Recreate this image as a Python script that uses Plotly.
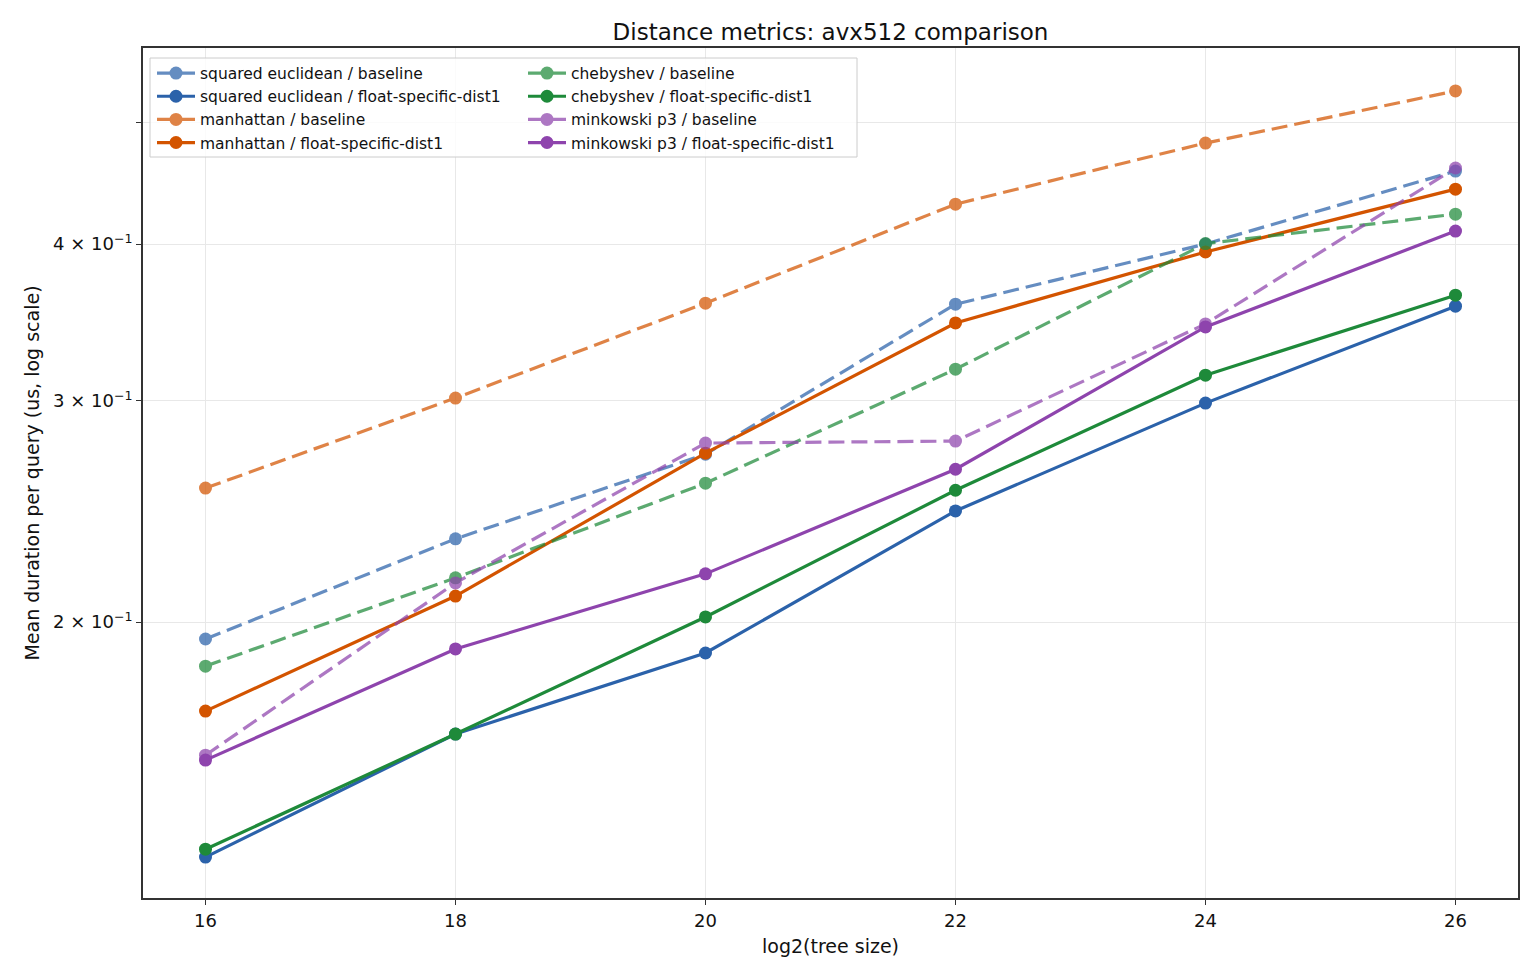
import plotly.graph_objects as go

tree_log2 = [16, 18, 20, 22, 24, 26]

sq_baseline = [0.1939, 0.2330, 0.2721, 0.3582, 0.4000, 0.4572]
sq_float = [0.1300, 0.1629, 0.1890, 0.2452, 0.2988, 0.3569]
man_baseline = [0.2557, 0.3016, 0.3589, 0.4303, 0.4813, 0.5296]
man_float = [0.1699, 0.2098, 0.2726, 0.3461, 0.3942, 0.4423]
cheb_baseline = [0.1845, 0.2169, 0.2580, 0.3180, 0.4003, 0.4225]
cheb_float = [0.1319, 0.1629, 0.2019, 0.2547, 0.3145, 0.3642]
mink_baseline = [0.1567, 0.2149, 0.2777, 0.2787, 0.3455, 0.4598]
mink_float = [0.1553, 0.1904, 0.2185, 0.2647, 0.3436, 0.4096]

y_tick_vals = [0.2, 0.3, 0.4, 0.5]
y_tick_text = ["2 × 10<sup>−1</sup>", "3 × 10<sup>−1</sup>", "4 × 10<sup>−1</sup>", ""]
x_tick_vals = [16, 18, 20, 22, 24, 26]

BLUE = "#2b62aa"
ORANGE = "#d35400"
GREEN = "#1e8a3a"
PURPLE = "#8e44ad"

series = [
    # name, values, color, baseline?, legend, rank
    ("squared euclidean / baseline", sq_baseline, BLUE, True, "legend", 1),
    ("squared euclidean / float-specific-dist1", sq_float, BLUE, False, "legend", 2),
    ("manhattan / baseline", man_baseline, ORANGE, True, "legend", 3),
    ("manhattan / float-specific-dist1", man_float, ORANGE, False, "legend", 4),
    ("chebyshev / baseline", cheb_baseline, GREEN, True, "legend2", 5),
    ("chebyshev / float-specific-dist1", cheb_float, GREEN, False, "legend2", 6),
    ("minkowski p3 / baseline", mink_baseline, PURPLE, True, "legend2", 7),
    ("minkowski p3 / float-specific-dist1", mink_float, PURPLE, False, "legend2", 8),
]

fig = go.Figure()
for name, vals, color, is_base, leg, rank in series:
    fig.add_trace(go.Scatter(
        x=tree_log2, y=vals, name=name, mode="lines+markers",
        line=dict(color=color, width=3.2, dash="16px,7px" if is_base else "solid"),
        marker=dict(color=color, size=13),
        opacity=0.72 if is_base else 1.0,
        legend=leg, legendgroup=name, legendrank=rank,
    ))

PL, PR, PT, PB = 143, 1518, 48, 898
W, H = PR - PL, PB - PT

def px_to_paper_x(p):
    return (p - PL) / W

def px_to_paper_y(p):
    return 1 - (p - PT) / H

legend_font = dict(family="DejaVu Sans", size=15.5, color="#111")
common_leg = dict(
    font=legend_font, bgcolor="rgba(0,0,0,0)", borderwidth=0,
    xanchor="left", yanchor="top", tracegroupgap=0, itemwidth=38,
    y=px_to_paper_y(56.5),
)

fig.update_layout(
    width=1540, height=980,
    margin=dict(l=PL, r=1540 - PR, t=PT, b=980 - PB),
    paper_bgcolor="white", plot_bgcolor="white",
    font=dict(family="DejaVu Sans", size=18, color="#111"),
    title=dict(text="Distance metrics: avx512 comparison", x=0.5, xanchor="center", xref="paper",
               y=1 - 32 / 980, yanchor="middle", font=dict(size=23, family="DejaVu Sans")),
    legend=dict(x=px_to_paper_x(152), **common_leg),
    legend2=dict(x=px_to_paper_x(523), **common_leg),
    showlegend=True,
    shapes=[dict(type="rect", xref="paper", yref="paper",
                 x0=px_to_paper_x(150), x1=px_to_paper_x(857),
                 y0=px_to_paper_y(157), y1=px_to_paper_y(58),
                 fillcolor="rgba(255,255,255,0.8)", line=dict(color="#cccccc", width=1),
                 layer="above")],
)

fig.update_xaxes(
    range=[15.5, 26.5], tickvals=x_tick_vals, ticks="outside", ticklen=5, tickwidth=1.2,
    tickcolor="#333", showgrid=True, gridcolor="#e8e8e8", gridwidth=1,
    showline=True, linecolor="#333", linewidth=1.8, mirror=True, zeroline=False,
    title=dict(text="log2(tree size)", font=dict(size=19), standoff=10),
    tickfont=dict(size=18),
)
fig.update_yaxes(
    type="log", range=[-0.9186, -0.2419], tickvals=y_tick_vals, ticktext=y_tick_text,
    ticks="outside", ticklen=5, tickwidth=1.2, tickcolor="#333",
    showgrid=True, gridcolor="#e8e8e8", gridwidth=1,
    showline=True, linecolor="#333", linewidth=1.8, mirror=True, zeroline=False,
    title=dict(text="Mean duration per query (us, log scale)", font=dict(size=19), standoff=8),
    tickfont=dict(size=18),
)

fig.write_html("out.html")
